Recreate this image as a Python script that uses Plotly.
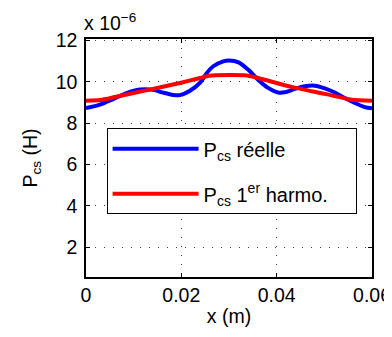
import plotly.graph_objects as go

# Values in units of 1e-6 H
x_reelle = [0, 0.0029, 0.0057, 0.0085, 0.0113, 0.0141, 0.0162, 0.0183, 0.0197, 0.0218,
            0.0239, 0.0253, 0.0267, 0.0288, 0.0300, 0.0320, 0.0340, 0.0361, 0.0382, 0.0403,
            0.0417, 0.0438, 0.0459, 0.0480, 0.0501, 0.0522, 0.0543, 0.0564, 0.0585, 0.0600]
p_reelle = [8.73, 8.90, 9.17, 9.46, 9.63, 9.62, 9.48, 9.37, 9.36, 9.57,
            9.95, 10.42, 10.76, 11.00, 11.04, 10.95, 10.60, 10.11, 9.71, 9.49,
            9.50, 9.66, 9.79, 9.82, 9.69, 9.49, 9.22, 8.98, 8.78, 8.72]

x_harmo = [0, 0.003, 0.0063, 0.0126, 0.0197, 0.0239, 0.0258, 0.0300, 0.0337, 0.0361,
           0.0431, 0.0501, 0.0557, 0.0600]
p_harmo = [9.09, 9.12, 9.28, 9.59, 9.95, 10.19, 10.30, 10.33, 10.31, 10.19,
           9.76, 9.42, 9.14, 9.09]

x_ticks = [0, 0.02, 0.04, 0.06]
x_ticklabels = ["0", "0.02", "0.04", "0.06"]
y_ticks = [2, 4, 6, 8, 10, 12]
y_ticklabels = ["2", "4", "6", "8", "10", "12"]

FONT = "Liberation Sans, Arial, sans-serif"
FS = 19.5
LFS = 20
NB = "\u00a0"

fig = go.Figure()
fig.add_trace(go.Scatter(x=x_reelle, y=p_reelle, mode="lines",
                         line=dict(color="#0000FF", width=4, shape="spline", smoothing=0.8),
                         name="P<sub>cs</sub> réelle", legendgroup="a"))
fig.add_trace(go.Scatter(x=x_harmo, y=p_harmo, mode="lines",
                         line=dict(color="#FF0000", width=4, shape="spline", smoothing=0.6),
                         name="P<sub>cs</sub> 1<sup>er</sup> harmo." + NB * 4, legendgroup="b"))

axis_common = dict(showline=True, linecolor="black", linewidth=1.5, mirror="allticks",
                   ticks="inside", ticklen=4, tickcolor="black", automargin=False,
                   showgrid=True, gridcolor="#444", gridwidth=1, griddash="1px,8px",
                   zeroline=False, tickfont=dict(size=FS, color="black", family=FONT))

fig.update_xaxes(range=[0, 0.06], tickvals=x_ticks, ticktext=x_ticklabels,
                 title=dict(text="x (m)", font=dict(size=FS, color="black", family=FONT), standoff=4),
                 **axis_common)
fig.update_yaxes(range=[0.55, 12.08], tickvals=y_ticks, ticktext=y_ticklabels,
                 ticklabelstandoff=3,
                 title=dict(text="P<sub>cs</sub> (H)", font=dict(size=FS, color="black", family=FONT), standoff=13),
                 **axis_common)

fig.add_annotation(text="x 10<sup>−6</sup>", xref="paper", yref="paper", x=0, y=1.0,
                   xanchor="left", yanchor="bottom", xshift=-4, yshift=3, showarrow=False,
                   font=dict(size=FS, color="black", family=FONT))

# page body has an 8px margin; figure sized so the plot area sits where the reference's does
fig.update_layout(
    width=384, height=329,
    margin=dict(l=78, r=20, t=31, b=60),
    paper_bgcolor="white", plot_bgcolor="white",
    font=dict(family=FONT, size=FS, color="black"),
    legend=dict(x=0.072, y=0.625, xanchor="left", yanchor="top",
                bgcolor="white", bordercolor="black", borderwidth=1,
                itemwidth=86, tracegroupgap=16,
                font=dict(size=LFS, family=FONT, color="black")),
)

fig.write_html("out.html")
